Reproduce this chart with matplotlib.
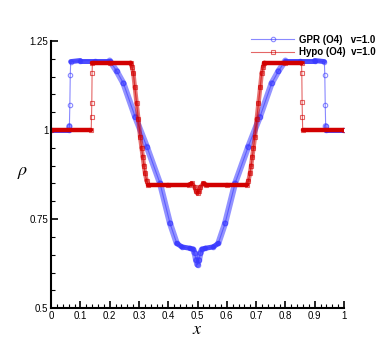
import numpy as np
import matplotlib
matplotlib.use("Agg")
import matplotlib.pyplot as plt
from matplotlib.ticker import MultipleLocator, FormatStrFormatter
from matplotlib.collections import LineCollection
from matplotlib.colors import to_rgba

plt.rcParams['font.family'] = ['Liberation Sans', 'DejaVu Sans']
plt.rcParams['mathtext.fontset'] = 'stix'

# GPR (O4)
x_gpr = [0.0, 0.061, 0.0625, 0.064, 0.0655, 0.067, 0.10, 0.15, 0.20, 0.224, 0.247,
         0.287, 0.327, 0.372, 0.406, 0.429, 0.446, 0.474, 0.485, 0.49, 0.495, 0.50,
         0.505, 0.51, 0.515, 0.526, 0.554, 0.571, 0.594, 0.628, 0.673, 0.713, 0.753,
         0.776, 0.80, 0.85, 0.90, 0.933, 0.9345, 0.936, 0.9375, 0.939, 1.0]
rho_gpr = [1.0, 1.0, 1.011, 1.07, 1.155, 1.192, 1.195, 1.195, 1.195, 1.165, 1.131,
           1.037, 0.953, 0.850, 0.738, 0.682, 0.672, 0.668, 0.665, 0.655, 0.635, 0.622,
           0.635, 0.655, 0.665, 0.668, 0.672, 0.682, 0.738, 0.850, 0.953, 1.037, 1.131,
           1.165, 1.195, 1.195, 1.195, 1.192, 1.155, 1.07, 1.011, 1.0, 1.0]

# Hypo (O4)
x_hypo = [0.0, 0.137, 0.138, 0.139, 0.140, 0.141, 0.20, 0.272, 0.276, 0.281, 0.286,
          0.292, 0.298, 0.304, 0.309, 0.313, 0.317, 0.321, 0.326, 0.332, 0.40, 0.47,
          0.48, 0.49, 0.495, 0.50, 0.505, 0.51, 0.52, 0.53, 0.60, 0.668, 0.674, 0.679,
          0.683, 0.687, 0.691, 0.696, 0.702, 0.708, 0.714, 0.719, 0.724, 0.728, 0.80,
          0.855, 0.856, 0.857, 0.858, 0.859, 1.0]
rho_hypo = [1.0, 1.0, 1.037, 1.077, 1.16, 1.189, 1.189, 1.189, 1.178, 1.159, 1.12,
            1.075, 1.03, 0.981, 0.95, 0.925, 0.90, 0.878, 0.858, 0.846, 0.846, 0.846,
            0.85, 0.84, 0.828, 0.822, 0.828, 0.84, 0.85, 0.846, 0.846, 0.846, 0.858, 0.878,
            0.90, 0.925, 0.95, 0.981, 1.03, 1.075, 1.12, 1.159, 1.178, 1.189, 1.189,
            1.189, 1.16, 1.08, 1.037, 1.0, 1.0]

blue = '#3a3aff'
red = '#d20000'

fig = plt.figure(figsize=(3.9, 3.47), dpi=100)
ax = fig.add_axes([0.131, 0.112, 0.751, 0.770])
ax.set_xlim(0, 1)
ax.set_ylim(0.5, 1.25)


def band(x, y, color, lw, slope_w, a_flat, a_slope):
    # overlapping markers look like a thick band where the grid is dense
    x = np.asarray(x); y = np.asarray(y)
    segs = np.stack([np.column_stack([x[:-1], y[:-1]]),
                     np.column_stack([x[1:], y[1:]])], axis=1)
    pslope = np.abs(np.diff(y) / np.diff(x)) * (267 / 0.75) / 293
    widths, cols = [], []
    for s in pslope:
        if s > 20:
            widths.append(0.0); cols.append(to_rgba(color, 0))
        elif s > 1.2:
            widths.append(slope_w); cols.append(to_rgba(color, a_slope))
        else:
            widths.append(lw); cols.append(to_rgba(color, a_flat))
    lc = LineCollection(segs, linewidths=widths, colors=cols, capstyle='round')
    ax.add_collection(lc)


band(x_gpr, rho_gpr, blue, 3.6, 4.4, 0.9, 0.55)
l1, = ax.plot(x_gpr, rho_gpr, color=blue, lw=0.8, alpha=0.6, marker='o', ms=3.2,
              mfc='none', mew=0.8, label='GPR (O4)   v=1.0')
band(x_hypo, rho_hypo, red, 3.2, 3.2, 1.0, 0.55)
l2, = ax.plot(x_hypo, rho_hypo, color=red, lw=0.8, alpha=0.6, marker='s', ms=2.6,
              mfc='none', mew=0.8, label='Hypo (O4)  v=1.0')

ax.xaxis.set_major_locator(MultipleLocator(0.1))
ax.xaxis.set_minor_locator(MultipleLocator(0.02))
ax.yaxis.set_major_locator(MultipleLocator(0.25))
ax.yaxis.set_minor_locator(MultipleLocator(0.05))
ax.xaxis.set_major_formatter(FormatStrFormatter('%g'))
ax.yaxis.set_major_formatter(FormatStrFormatter('%g'))
ax.tick_params(which='both', direction='in', top=False, right=False, labelsize=7, pad=2)
ax.tick_params(which='major', length=5, width=1.2)
ax.tick_params(which='minor', length=3, width=0.8)
for s in ['top', 'right']:
    ax.spines[s].set_visible(False)
for s in ['left', 'bottom']:
    ax.spines[s].set_linewidth(1.5)

ax.set_xlabel(r'$x$', fontsize=13, labelpad=0)
ax.text(-0.096, 0.506, r'$\rho$', transform=ax.transAxes, fontsize=13,
        ha='center', va='center')

leg = fig.legend(handles=[l1, l2], loc='upper right', bbox_to_anchor=(0.985, 0.925),
                 frameon=False, handlelength=4.4, handletextpad=0.5,
                 labelspacing=0.25, prop={'weight': 'bold', 'size': 7})

fig.savefig('out.png', dpi=100)
